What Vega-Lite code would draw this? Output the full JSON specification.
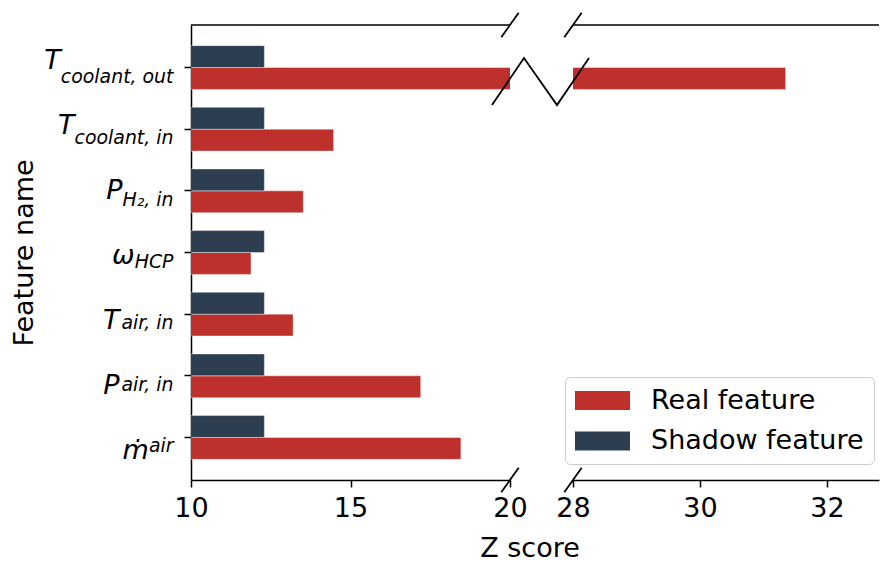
{
  "$schema": "https://vega.github.io/schema/vega-lite/v6.json",
  "padding": {"left": 10, "top": 11, "right": 0, "bottom": 0},
  "config": {
    "font": "DejaVu Sans",
    "view": {"stroke": null},
    "axis": {"domainColor": "black", "tickColor": "black", "labelColor": "black", "titleColor": "black", "domainWidth": 1.5, "tickWidth": 1.5, "tickSize": 7, "labelFontSize": 27, "titleFontSize": 27, "titleFontWeight": "normal", "grid": false, "labelOverlap": false, "labelFlush": false}
  },
  "datasets": {
    "scores": [
      {"feature": "T_coolant, out", "type": "Real feature", "z": 31.35},
      {"feature": "T_coolant, out", "type": "Shadow feature", "z": 12.3},
      {"feature": "T_coolant, in", "type": "Real feature", "z": 14.47},
      {"feature": "T_coolant, in", "type": "Shadow feature", "z": 12.3},
      {"feature": "P_H₂, in", "type": "Real feature", "z": 13.52},
      {"feature": "P_H₂, in", "type": "Shadow feature", "z": 12.3},
      {"feature": "ω_HCP", "type": "Real feature", "z": 11.88},
      {"feature": "ω_HCP", "type": "Shadow feature", "z": 12.3},
      {"feature": "T_air, in", "type": "Real feature", "z": 13.2},
      {"feature": "T_air, in", "type": "Shadow feature", "z": 12.3},
      {"feature": "P_air, in", "type": "Real feature", "z": 17.2},
      {"feature": "P_air, in", "type": "Shadow feature", "z": 12.3},
      {"feature": "ṁ_air", "type": "Real feature", "z": 18.46},
      {"feature": "ṁ_air", "type": "Shadow feature", "z": 12.3}
    ],
    "leftBreaks": [
      {"x1": 19.727, "x2": 20.273, "y1": -0.0268, "y2": 0.0268},
      {"x1": 19.727, "x2": 20.273, "y1": 0.9732, "y2": 1.0268}
    ],
    "rightBreaks": [
      {"x1": 27.863, "x2": 28.137, "y1": -0.0268, "y2": 0.0268},
      {"x1": 27.863, "x2": 28.137, "y1": 0.9732, "y2": 1.0268}
    ],
    "zigzag": [
      {"i": 0, "zx": 26.724, "zy": 0.824},
      {"i": 1, "zx": 27.228, "zy": 0.9275},
      {"i": 2, "zx": 27.748, "zy": 0.824},
      {"i": 3, "zx": 28.252, "zy": 0.9275}
    ]
  },
  "spacing": 63,
  "bounds": "flush",
  "resolve": {"legend": {"color": "independent"}},
  "hconcat": [
    {
      "width": 319,
      "height": 455,
      "resolve": {"scale": {"y": "independent"}, "axis": {"x": "independent"}},
      "layer": [
        {
          "data": {"name": "scores"},
          "mark": {"type": "bar", "clip": true, "stroke": "white", "strokeWidth": 0.8, "strokeOpacity": 0.5},
          "encoding": {
            "y": {
              "field": "feature", "type": "nominal",
              "sort": ["T_coolant, out", "T_coolant, in", "P_H₂, in", "ω_HCP", "T_air, in", "P_air, in", "ṁ_air"],
              "scale": {"paddingInner": 0.29, "paddingOuter": 0.335},
              "axis": {"orient": "left", "title": null, "labelExpr": "split(datum.value, '_')[1]", "labelFontSize": 18.9, "labelFontStyle": "italic", "labelBaseline": "alphabetic", "labelOffset": 15, "labelPadding": 11, "labelLimit": 300}
            },
            "yOffset": {"field": "type", "type": "nominal", "sort": ["Shadow feature", "Real feature"], "scale": {"paddingInner": 0, "paddingOuter": 0}},
            "x": {
              "field": "z", "type": "quantitative",
              "scale": {"domain": [10, 20], "nice": false, "zero": false},
              "axis": {"orient": "bottom", "values": [10, 15, 20], "title": "Z score", "titleX": 338.5, "titleY": 76, "titleBaseline": "alphabetic", "titleAlign": "center", "labelPadding": 8, "labelFlush": false}
            },
            "color": {"field": "type", "type": "nominal", "scale": {"domain": ["Real feature", "Shadow feature"], "range": ["#be302b", "#2c3e50"]}, "legend": null}
          }
        },
        {
          "data": {"name": "scores"},
          "mark": {"type": "point", "opacity": 0, "clip": true},
          "encoding": {
            "y": {
              "field": "feature", "type": "nominal",
              "sort": ["T_coolant, out", "T_coolant, in", "P_H₂, in", "ω_HCP", "T_air, in", "P_air, in", "ṁ_air"],
              "scale": {"paddingInner": 0.29, "paddingOuter": 0.335},
              "axis": {
                "orient": "left", "title": "Feature name", "titlePadding": 5, "domain": false, "tickOpacity": 0,
                "labelExpr": "split(datum.value, '_')[0]", "labelFontSize": 27, "labelFontStyle": "italic", "labelBaseline": "alphabetic", "labelOffset": 10.8, "labelLimit": 300,
                "labelPadding": {
                  "condition": [
                    {"test": "datum.value == 'T_coolant, out'", "value": 123.7},
                    {"test": "datum.value == 'T_coolant, in'", "value": 110},
                    {"test": "datum.value == 'P_H₂, in'", "value": 62},
                    {"test": "datum.value == 'ω_HCP'", "value": 49.8},
                    {"test": "datum.value == 'T_air, in'", "value": 64.9},
                    {"test": "datum.value == 'P_air, in'", "value": 64.9}
                  ],
                  "value": 35.6
                }
              }
            },
            "x": {"field": "z", "type": "quantitative", "scale": {"domain": [10, 20], "nice": false, "zero": false}, "axis": null}
          }
        },
        {
          "data": {"name": "leftBreaks"},
          "mark": {"type": "rule", "strokeWidth": 1.8, "color": "black"},
          "encoding": {
            "x": {"field": "x1", "type": "quantitative", "scale": {"domain": [10, 20], "nice": false, "zero": false}, "axis": null},
            "x2": {"field": "x2"},
            "y": {"field": "y1", "type": "quantitative", "scale": {"domain": [0, 1], "nice": false, "zero": false}, "axis": null},
            "y2": {"field": "y2"}
          }
        },
        {
          "data": {"values": [{}]},
          "mark": {"type": "rule", "strokeWidth": 1.5, "color": "black"},
          "encoding": {
            "y": {"datum": 1, "type": "quantitative", "scale": {"domain": [0, 1], "nice": false, "zero": false}, "axis": null}
          }
        }
      ]
    },
    {
      "width": 306,
      "height": 455,
      "resolve": {"scale": {"y": "independent"}, "axis": {"x": "independent"}},
      "layer": [
        {
          "data": {"name": "scores"},
          "mark": {"type": "bar", "clip": true, "stroke": "white", "strokeWidth": 0.8, "strokeOpacity": 0.5},
          "encoding": {
            "y": {
              "field": "feature", "type": "nominal",
              "sort": ["T_coolant, out", "T_coolant, in", "P_H₂, in", "ω_HCP", "T_air, in", "P_air, in", "ṁ_air"],
              "scale": {"paddingInner": 0.29, "paddingOuter": 0.335},
              "axis": null
            },
            "yOffset": {"field": "type", "type": "nominal", "sort": ["Shadow feature", "Real feature"], "scale": {"paddingInner": 0, "paddingOuter": 0}},
            "x": {
              "field": "z", "type": "quantitative",
              "scale": {"domain": [28, 32.82], "nice": false, "zero": false},
              "axis": {"orient": "bottom", "values": [28, 30, 32], "title": null, "labelPadding": 8, "labelFlush": false}
            },
            "color": {
              "field": "type", "type": "nominal",
              "scale": {"domain": ["Real feature", "Shadow feature"], "range": ["#be302b", "#2c3e50"]},
              "legend": {
                "orient": "none", "legendX": -8, "legendY": 352, "title": null,
                "symbolType": "M-2.9,-1H2.9V1H-2.9Z", "symbolSize": 361, "symbolStrokeWidth": 0, "symbolOffset": 14,
                "labelOffset": 35, "labelFontSize": 27, "labelColor": "black", "labelLimit": 400,
                "rowPadding": 12.5, "padding": 10, "fillColor": "rgba(255,255,255,0.8)", "strokeColor": "#cccccc", "cornerRadius": 5
              }
            }
          }
        },
        {
          "data": {"name": "rightBreaks"},
          "mark": {"type": "rule", "strokeWidth": 1.8, "color": "black"},
          "encoding": {
            "x": {"field": "x1", "type": "quantitative", "scale": {"domain": [28, 32.82], "nice": false, "zero": false}, "axis": null},
            "x2": {"field": "x2"},
            "y": {"field": "y1", "type": "quantitative", "scale": {"domain": [0, 1], "nice": false, "zero": false}, "axis": null},
            "y2": {"field": "y2"}
          }
        },
        {
          "data": {"values": [{}]},
          "mark": {"type": "rule", "strokeWidth": 1.5, "color": "black"},
          "encoding": {
            "y": {"datum": 1, "type": "quantitative", "scale": {"domain": [0, 1], "nice": false, "zero": false}, "axis": null}
          }
        },
        {
          "data": {"name": "zigzag"},
          "mark": {"type": "line", "strokeWidth": 1.8, "color": "black"},
          "encoding": {
            "x": {"field": "zx", "type": "quantitative", "scale": {"domain": [28, 32.82], "nice": false, "zero": false}, "axis": null},
            "y": {"field": "zy", "type": "quantitative", "scale": {"domain": [0, 1], "nice": false, "zero": false}, "axis": null},
            "order": {"field": "i", "type": "quantitative"}
          }
        }
      ]
    }
  ]
}
